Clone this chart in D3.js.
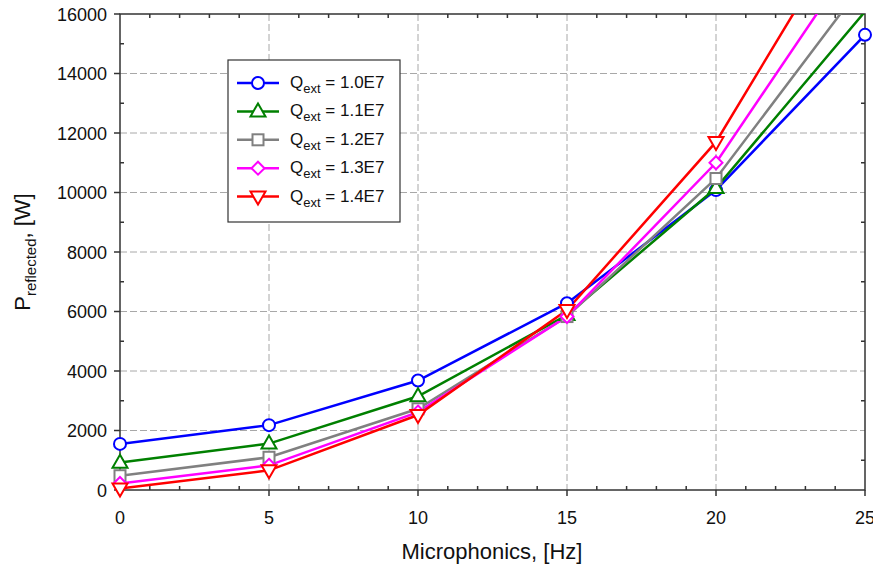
<!DOCTYPE html>
<html>
<head>
<meta charset="utf-8">
<script src="https://cdn.jsdelivr.net/npm/d3@7"></script>
<style>
  body { margin: 0; background: #fff; }
  svg { font-family: "Liberation Sans", Arial, sans-serif; }
</style>
</head>
<body>
<svg id="chart" width="873" height="565"></svg>
<script>
// data
var freqs = [0, 5, 10, 15, 20, 25];
var qLabels = ["1.0E7", "1.1E7", "1.2E7", "1.3E7", "1.4E7"];
var q10 = [1550, 2180, 3680, 6280, 10080, 15300];
var q11 = [920, 1560, 3150, 5880, 10150, 16080];
var q12 = [480, 1100, 2730, 5830, 10470, 17100];
var q13 = [220, 830, 2620, 5830, 11000, 18400];
var q14 = [50, 660, 2520, 6050, 11700, 20000];
var xTicks = [0, 5, 10, 15, 20, 25];
var yTicks = [0, 2000, 4000, 6000, 8000, 10000, 12000, 14000, 16000];

var seriesVals = [q10, q11, q12, q13, q14];
var colors = ["#0000ff", "#008000", "#808080", "#ff00ff", "#ff0000"];
var shapes = ["circle", "tri", "square", "diamond", "tridown"];

var svg = d3.select("#chart");
var m = {left: 120, right: 865, top: 14, bottom: 490};

var x = d3.scaleLinear().domain([0, 25]).range([m.left, m.right]);
var y = d3.scaleLinear().domain([0, 16000]).range([m.bottom, m.top]);

// grid
var grid = svg.append("g").attr("stroke", "#a8a8a8").attr("stroke-dasharray", "7,3").attr("stroke-width", 1);
xTicks.slice(1, -1).forEach(function(t){
  grid.append("line").attr("x1", x(t)).attr("x2", x(t)).attr("y1", m.top).attr("y2", m.bottom);
});
yTicks.slice(1, -1).forEach(function(t){
  grid.append("line").attr("x1", m.left).attr("x2", m.right).attr("y1", y(t)).attr("y2", y(t));
});

// frame + ticks
var ax = svg.append("g").attr("stroke", "#333").attr("stroke-width", 1.5).attr("fill", "none");
ax.append("rect").attr("x", m.left).attr("y", m.top).attr("width", m.right - m.left).attr("height", m.bottom - m.top);
d3.range(0, 26, 1).forEach(function(t){
  var major = t % 5 == 0;
  if (major) {
    ax.append("line").attr("x1", x(t)).attr("x2", x(t)).attr("y1", m.bottom).attr("y2", m.bottom + 6);
  } else {
    ax.append("line").attr("x1", x(t)).attr("x2", x(t)).attr("y1", m.bottom).attr("y2", m.bottom - 4);
    ax.append("line").attr("x1", x(t)).attr("x2", x(t)).attr("y1", m.top).attr("y2", m.top + 4);
  }
});
d3.range(0, 16001, 1000).forEach(function(t){
  var major = t % 2000 == 0;
  if (major) {
    ax.append("line").attr("x1", m.left - 6).attr("x2", m.left).attr("y1", y(t)).attr("y2", y(t));
  } else {
    ax.append("line").attr("x1", m.left).attr("x2", m.left + 4).attr("y1", y(t)).attr("y2", y(t));
    ax.append("line").attr("x1", m.right - 4).attr("x2", m.right).attr("y1", y(t)).attr("y2", y(t));
  }
});

// tick labels
svg.append("g").selectAll("text").data(xTicks).join("text")
  .attr("x", function(d){ return x(d); }).attr("y", m.bottom + 34)
  .attr("text-anchor", "middle").attr("font-size", 18).attr("fill", "#111")
  .text(function(d){ return d; });
svg.append("g").selectAll("text").data(yTicks).join("text")
  .attr("x", m.left - 13).attr("y", function(d){ return y(d) + 6.5; })
  .attr("text-anchor", "end").attr("font-size", 18).attr("fill", "#111")
  .text(function(d){ return d; });

// axis titles
svg.append("text").attr("x", 492).attr("y", 559)
  .attr("text-anchor", "middle").attr("font-size", 22).attr("fill", "#111")
  .text("Microphonics, [Hz]");
var yt = svg.append("text").attr("transform", "translate(30,252) rotate(-90)")
  .attr("text-anchor", "middle").attr("font-size", 22).attr("fill", "#111");
yt.append("tspan").text("P");
yt.append("tspan").attr("font-size", 15).attr("dy", 6).text("reflected");
yt.append("tspan").attr("dy", -6).text(", [W]");

// markers
function drawMarker(g, shape, cx, cy, color){
  var s = 6.5;
  var el;
  if (shape == "circle") {
    el = g.append("circle").attr("cx", cx).attr("cy", cy).attr("r", 6);
  } else if (shape == "square") {
    el = g.append("rect").attr("x", cx - 5.5).attr("y", cy - 5.5).attr("width", 11).attr("height", 11);
  } else if (shape == "diamond") {
    el = g.append("path").attr("d", "M" + cx + "," + (cy - s) + "L" + (cx + s) + "," + cy + "L" + cx + "," + (cy + s) + "L" + (cx - s) + "," + cy + "Z");
  } else if (shape == "tri") {
    el = g.append("path").attr("d", "M" + cx + "," + (cy - 8) + "L" + (cx + 7.5) + "," + (cy + 5) + "L" + (cx - 7.5) + "," + (cy + 5) + "Z");
  } else {
    el = g.append("path").attr("d", "M" + cx + "," + (cy + 8) + "L" + (cx + 7.5) + "," + (cy - 5) + "L" + (cx - 7.5) + "," + (cy - 5) + "Z");
  }
  el.attr("fill", "#fff").attr("stroke", color).attr("stroke-width", 2);
}

svg.append("clipPath").attr("id", "clip").append("rect")
  .attr("x", m.left).attr("y", m.top).attr("width", m.right - m.left).attr("height", m.bottom - m.top);

var line = d3.line().x(function(d, i){ return x(freqs[i]); }).y(function(d){ return y(d); });

seriesVals.forEach(function(vals, k){
  svg.append("path").attr("d", line(vals)).attr("fill", "none")
    .attr("stroke", colors[k]).attr("stroke-width", 2.5).attr("clip-path", "url(#clip)");
});
seriesVals.forEach(function(vals, k){
  var g = svg.append("g");
  vals.forEach(function(v, i){
    if (v <= 16000) drawMarker(g, shapes[k], x(freqs[i]), y(v), colors[k]);
  });
});

// legend
var lg = svg.append("g");
lg.append("rect").attr("x", 228).attr("y", 60).attr("width", 172).attr("height", 162)
  .attr("fill", "#fff").attr("stroke", "#333").attr("stroke-width", 1.2);
qLabels.forEach(function(q, k){
  var ly = 83 + k * 28.4;
  lg.append("line").attr("x1", 237).attr("x2", 279).attr("y1", ly).attr("y2", ly)
    .attr("stroke", colors[k]).attr("stroke-width", 2.5);
  drawMarker(lg, shapes[k], 258, ly, colors[k]);
  var t = lg.append("text").attr("x", 290).attr("y", ly + 5).attr("font-size", 17).attr("fill", "#111");
  t.append("tspan").text("Q");
  t.append("tspan").attr("font-size", 13).attr("dy", 5).text("ext");
  t.append("tspan").attr("dy", -5).text(" = " + q);
});
</script>
</body>
</html>
